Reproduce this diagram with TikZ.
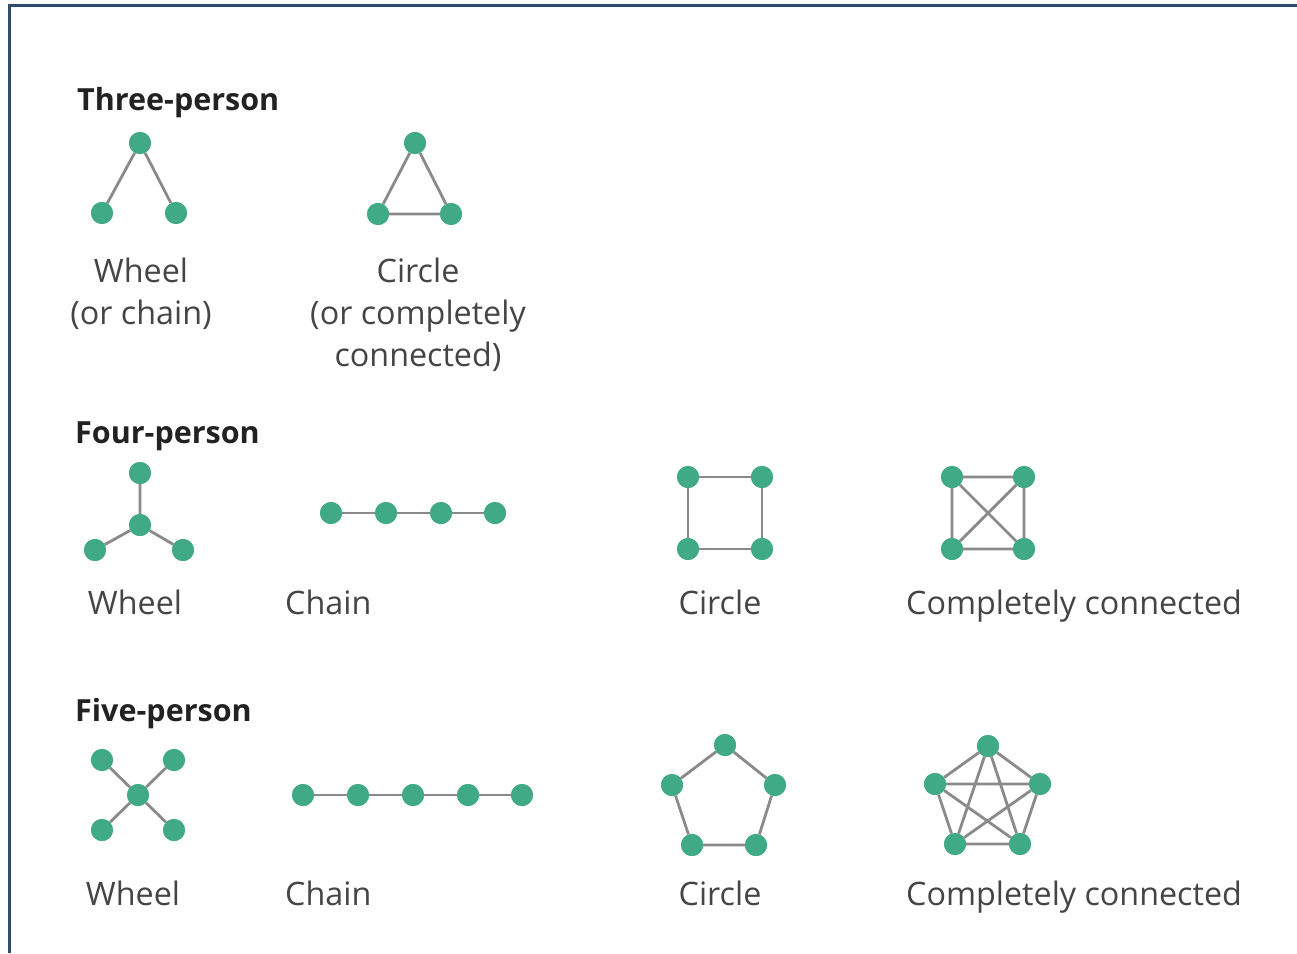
\documentclass[tikz,border=0pt]{standalone}
\usepackage{fontspec}
\setmainfont{Open Sans}
\definecolor{dotgreen}{HTML}{3FAA85}
\definecolor{edgegray}{HTML}{8A8A8A}
\definecolor{framecol}{HTML}{2E4A6C}
\definecolor{titlecol}{HTML}{222222}
\definecolor{labelcol}{HTML}{454545}
\tikzset{
  pers/.style={circle,fill=dotgreen,draw=none,minimum size=22pt,inner sep=0pt},
  link/.style={draw=edgegray,line width=2.8pt},
  grouptitle/.style={anchor=base west,inner sep=0pt,text=titlecol,font=\bfseries\fontsize{30.5}{36}\selectfont},
  lbl/.style={anchor=base,inner sep=0pt,text=labelcol,font=\fontsize{32.3}{40}\selectfont},
  lblw/.style={anchor=base west,inner sep=0pt,text=labelcol,font=\fontsize{32.3}{40}\selectfont},
  frameline/.style={draw=framecol,line width=3pt}
}
\begin{document}
\begin{tikzpicture}[x=1pt,y=-1pt]
\useasboundingbox (0,0) rectangle (1297,953);
\fill[white] (0,0) rectangle (1297,953);
% frame
\coordinate (fb) at (9,953);
\coordinate (fc) at (9,5);
\coordinate (fr) at (1297,5);
\draw[frameline] (fb) -- (fc) -- (fr);

% ---------- Three-person ----------
\node[grouptitle] (t3) at (77,110) {Three-person};
% wheel
\node[pers] (a1) at (140,143) {};
\node[pers] (a2) at (102,213) {};
\node[pers] (a3) at (176,213) {};
\draw[link] (a1) -- (a2) (a1) -- (a3);
\node[lbl] (la1) at (141,282) {Wheel};
\node[lbl] (la2) at (141,324) {(or chain)};
% circle
\node[pers] (b1) at (415,143) {};
\node[pers] (b2) at (378,214) {};
\node[pers] (b3) at (451,214) {};
\draw[link] (b1) -- (b2) (b2) -- (b3) (b3) -- (b1);
\node[lbl] (lb1) at (418,282) {Circle};
\node[lbl] (lb2) at (418,324) {(or completely};
\node[lbl] (lb3) at (418,366) {connected)};

% ---------- Four-person ----------
\node[grouptitle] (t4) at (75,443) {Four-person};
% wheel
\node[pers] (c0) at (140,525) {};
\node[pers] (c1) at (140,473) {};
\node[pers] (c2) at (95,550) {};
\node[pers] (c3) at (183,550) {};
\draw[link] (c0) -- (c1) (c0) -- (c2) (c0) -- (c3);
\node[lbl] (lc) at (135,614) {Wheel};
% chain
\node[pers] (d1) at (331,513) {};
\node[pers] (d2) at (386,513) {};
\node[pers] (d3) at (441,513) {};
\node[pers] (d4) at (495,513) {};
\draw[link] (d1) -- (d2) (d2) -- (d3) (d3) -- (d4);
\node[lblw] (ld) at (285,614) {Chain};
% circle
\node[pers] (e1) at (688,477) {};
\node[pers] (e2) at (762,477) {};
\node[pers] (e3) at (762,549) {};
\node[pers] (e4) at (688,549) {};
\draw[link] (e1) -- (e2) (e2) -- (e3) (e3) -- (e4) (e4) -- (e1);
\node[lbl] (le) at (720,614) {Circle};
% complete
\node[pers] (f1) at (952,477) {};
\node[pers] (f2) at (1024,477) {};
\node[pers] (f3) at (1024,549) {};
\node[pers] (f4) at (952,549) {};
\draw[link] (f1) -- (f2) (f2) -- (f3) (f3) -- (f4) (f4) -- (f1) (f1) -- (f3) (f2) -- (f4);
\node[lblw] (lf) at (906,614) {Completely connected};

% ---------- Five-person ----------
\node[grouptitle] (t5) at (75,721) {Five-person};
% wheel
\node[pers] (g0) at (138,795) {};
\node[pers] (g1) at (102,760) {};
\node[pers] (g2) at (174,760) {};
\node[pers] (g3) at (102,830) {};
\node[pers] (g4) at (174,830) {};
\draw[link] (g0) -- (g1) (g0) -- (g2) (g0) -- (g3) (g0) -- (g4);
\node[lbl] (lg) at (133,905) {Wheel};
% chain
\node[pers] (h1) at (303,795) {};
\node[pers] (h2) at (358,795) {};
\node[pers] (h3) at (413,795) {};
\node[pers] (h4) at (468,795) {};
\node[pers] (h5) at (522,795) {};
\draw[link] (h1) -- (h2) (h2) -- (h3) (h3) -- (h4) (h4) -- (h5);
\node[lblw] (lh) at (285,905) {Chain};
% circle
\node[pers] (i1) at (725,745) {};
\node[pers] (i2) at (775,785) {};
\node[pers] (i3) at (756,845) {};
\node[pers] (i4) at (692,845) {};
\node[pers] (i5) at (672,785) {};
\draw[link] (i1) -- (i2) (i2) -- (i3) (i3) -- (i4) (i4) -- (i5) (i5) -- (i1);
\node[lbl] (li) at (720,905) {Circle};
% complete
\node[pers] (j1) at (988,746) {};
\node[pers] (j2) at (1040,784) {};
\node[pers] (j3) at (1020,844) {};
\node[pers] (j4) at (955,844) {};
\node[pers] (j5) at (935,784) {};
\draw[link] (j1) -- (j2) (j2) -- (j3) (j3) -- (j4) (j4) -- (j5) (j5) -- (j1)
  (j1) -- (j3) (j1) -- (j4) (j2) -- (j4) (j2) -- (j5) (j3) -- (j5);
\node[lblw] (lj) at (906,905) {Completely connected};
% redraw dots on top of the connectors
\foreach \n in {a1,a2,a3,b1,b2,b3,c0,c1,c2,c3,d1,d2,d3,d4,e1,e2,e3,e4,f1,f2,f3,f4,g0,g1,g2,g3,g4,h1,h2,h3,h4,h5,i1,i2,i3,i4,i5,j1,j2,j3,j4,j5}
  \fill[dotgreen] (\n.center) circle (11pt);
\end{tikzpicture}
\end{document}
